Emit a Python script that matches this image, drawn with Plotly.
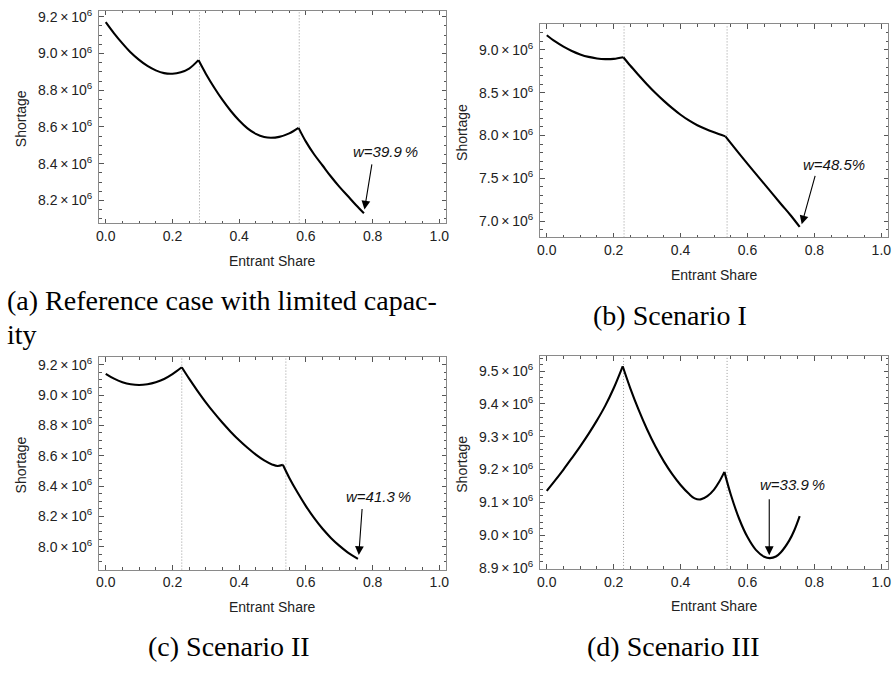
import plotly.graph_objects as go

# ---------------- data ----------------
a_x = [0.0, 0.025, 0.05, 0.075, 0.1, 0.125, 0.15, 0.175, 0.2, 0.225, 0.25, 0.278,
       0.3, 0.325, 0.35, 0.375, 0.4, 0.425, 0.45, 0.475, 0.495, 0.52, 0.55, 0.578,
       0.6, 0.625, 0.65, 0.675, 0.7, 0.725, 0.75, 0.774]
a_y = [9.171, 9.110, 9.055, 9.005, 8.965, 8.932, 8.908, 8.893, 8.890, 8.898, 8.918, 8.964,
       8.890, 8.815, 8.747, 8.687, 8.635, 8.592, 8.562, 8.545, 8.541, 8.546, 8.565, 8.595,
       8.520, 8.450, 8.390, 8.330, 8.275, 8.225, 8.175, 8.130]
a_kinks = [11, 23]

b_x = [0.0, 0.025, 0.05, 0.075, 0.1, 0.125, 0.15, 0.175, 0.2, 0.229,
       0.25, 0.275, 0.3, 0.325, 0.35, 0.375, 0.4, 0.425, 0.45, 0.475, 0.5, 0.534,
       0.58, 0.62, 0.66, 0.7, 0.73, 0.756]
b_y = [9.172, 9.099, 9.038, 8.988, 8.948, 8.919, 8.901, 8.893, 8.896, 8.915,
       8.815, 8.705, 8.597, 8.497, 8.405, 8.320, 8.243, 8.176, 8.120, 8.075, 8.037, 7.990,
       7.765, 7.575, 7.388, 7.200, 7.062, 6.931]
b_kinks = [9, 21]

c_x = [0.0, 0.025, 0.05, 0.075, 0.1, 0.125, 0.15, 0.175, 0.2, 0.228,
       0.25, 0.275, 0.3, 0.325, 0.35, 0.375, 0.4, 0.425, 0.45, 0.475, 0.5, 0.515, 0.531,
       0.55, 0.575, 0.6, 0.625, 0.65, 0.675, 0.7, 0.725, 0.756]
c_y = [9.140, 9.108, 9.085, 9.071, 9.066, 9.071, 9.084, 9.106, 9.138, 9.183,
       9.108, 9.028, 8.952, 8.882, 8.817, 8.757, 8.702, 8.652, 8.607, 8.569, 8.541, 8.532, 8.540,
       8.455, 8.357, 8.268, 8.188, 8.118, 8.058, 8.007, 7.963, 7.920]
c_kinks = [9, 22]

d_x = [0.0, 0.025, 0.05, 0.075, 0.1, 0.125, 0.15, 0.175, 0.2, 0.227,
       0.25, 0.275, 0.3, 0.325, 0.35, 0.375, 0.4, 0.425, 0.442, 0.46, 0.48, 0.5, 0.515, 0.531,
       0.55, 0.575, 0.6, 0.625, 0.65, 0.667, 0.685, 0.7, 0.725, 0.74, 0.756]
d_y = [9.135, 9.167, 9.200, 9.235, 9.271, 9.309, 9.350, 9.395, 9.448, 9.515,
       9.447, 9.381, 9.322, 9.270, 9.225, 9.186, 9.153, 9.126, 9.112, 9.109, 9.119, 9.139, 9.162, 9.193,
       9.124, 9.050, 8.994, 8.955, 8.934, 8.930, 8.935, 8.948, 8.984, 9.015, 9.058]
d_kinks = [9, 23]

a_breaks = [0.281, 0.580]
b_breaks = [0.231, 0.539]
c_breaks = [0.228, 0.540]
d_breaks = [0.2295, 0.539]

a_yticks = [8.2, 8.4, 8.6, 8.8, 9.0, 9.2]
b_yticks = [7.0, 7.5, 8.0, 8.5, 9.0]
c_yticks = [8.0, 8.2, 8.4, 8.6, 8.8, 9.0, 9.2]
d_yticks = [8.9, 9.0, 9.1, 9.2, 9.3, 9.4, 9.5]
x_ticks = [0.0, 0.2, 0.4, 0.6, 0.8, 1.0]

labels_w = ["w=39.9\u2009%", "w=48.5%", "w=41.3\u2009%", "w=33.9\u2009%"]
captions = ["(a) Reference case with limited capac-", "ity", "(b) Scenario I",
            "(c) Scenario II", "(d) Scenario III"]

SCALE = 1e6
W, H = 893, 673
SANS = "Liberation Sans, Arial, sans-serif"
SERIF = "Liberation Serif, Times New Roman, serif"

# panel frames in pixels: left, right, top, bottom
frames = [(96.7, 446.0, 7.0, 223.0), (540.7, 891.0, 20.7, 237.3),
          (96.7, 446.0, 359.0, 575.0), (540.7, 891.0, 358.3, 574.3)]
yranges = [(8.075, 9.232), (6.809, 9.299), (7.849, 9.250), (8.897, 9.545)]
yminor = [0.05, 0.1, 0.05, 0.02]

series = [(a_x, a_y, a_kinks, a_breaks, a_yticks), (b_x, b_y, b_kinks, b_breaks, b_yticks),
          (c_x, c_y, c_kinks, c_breaks, c_yticks), (d_x, d_y, d_kinks, d_breaks, d_yticks)]

# arrow tip, arrow tail, text centre (data units, y in 1e6)
arrows = [((0.7756, 8.150), (0.7985, 8.404), (0.838, 8.467)),
          ((0.762, 6.962), (0.8034, 7.545), (0.858, 7.660)),
          ((0.7586, 7.945), (0.7688, 8.258), (0.818, 8.334)),
          ((0.665, 8.939), (0.665, 9.114), (0.734, 9.155))]

fig = go.Figure()
layout = dict(width=W, height=H, margin=dict(l=0, r=0, t=0, b=0),
              paper_bgcolor="white", plot_bgcolor="white", showlegend=False)
annotations = []
shapes = []


def fmt(v):
    return f"{v:.1f}\u2009×\u200910<sup>6</sup>"


for i, ((xs, ys, kinks, brks, yt), (l, r, t, b), yr, ym) in enumerate(
        zip(series, frames, yranges, yminor)):
    n = "" if i == 0 else str(i + 1)
    xa, ya = "x" + n, "y" + n
    cuts = [0] + kinks + [len(xs) - 1]
    for s0, s1 in zip(cuts[:-1], cuts[1:]):
        fig.add_trace(go.Scatter(x=xs[s0:s1 + 1], y=[v * SCALE for v in ys[s0:s1 + 1]],
                                 mode="lines",
                                 line=dict(color="black", width=2.1, shape="spline",
                                           smoothing=1.0),
                                 xaxis=xa, yaxis=ya, hoverinfo="skip"))
    common = dict(showline=True, linecolor="#8a8a8a", linewidth=1, mirror="ticks",
                  ticks="inside", ticklen=4.5, tickwidth=1, tickcolor="#555",
                  showgrid=False, zeroline=False,
                  tickfont=dict(family=SANS, size=14, color="#222"))
    layout["xaxis" + n] = dict(common, domain=[l / W, r / W], range=[-0.02, 1.02],
                               anchor=ya, tickvals=x_ticks,
                               ticktext=[f"{v:.1f}" for v in x_ticks],
                               minor=dict(dtick=0.05, tick0=0, ticks="inside", ticklen=2.5,
                                          tickcolor="#555", showgrid=False))
    layout["yaxis" + n] = dict(common, domain=[1 - b / H, 1 - t / H],
                               range=[yr[0] * SCALE, yr[1] * SCALE], anchor=xa,
                               tickvals=[v * SCALE for v in yt],
                               ticktext=[fmt(v) for v in yt], ticklabelstandoff=3,
                               minor=dict(dtick=ym * SCALE, tick0=0, ticks="inside",
                                          ticklen=2.5, tickcolor="#555", showgrid=False))
    for bx in brks:
        shapes.append(dict(type="line", xref=xa, yref=ya + " domain", x0=bx, x1=bx,
                           y0=0, y1=1, layer="below",
                           line=dict(color="#9a9a9a", width=1, dash="1px,2px")))
    tip, tail, txt = arrows[i]
    annotations.append(dict(x=tip[0], y=tip[1] * SCALE, ax=tail[0], ay=tail[1] * SCALE,
                            xref=xa, yref=ya, axref=xa, ayref=ya, text="",
                            showarrow=True, arrowhead=2, arrowsize=1.6, arrowwidth=1.1,
                            arrowcolor="black", standoff=0, startstandoff=0))
    annotations.append(dict(x=txt[0], y=txt[1] * SCALE, xref=xa, yref=ya,
                            xanchor="center", yanchor="middle",
                            text="<i>" + labels_w[i] + "</i>", showarrow=False,
                            font=dict(family=SANS, size=15, color="#111")))
    # axis titles
    annotations.append(dict(x=(l + r) / 2 / W, y=1 - (b + 38) / H, xref="paper", yref="paper",
                            xanchor="center", yanchor="middle",
                            text="Entrant Share", showarrow=False,
                            font=dict(family=SANS, size=14, color="#222")))
    annotations.append(dict(x=(l - 78.5) / W, y=1 - ((t + b) / 2 + 2) / H, xref="paper",
                            yref="paper", xanchor="center", yanchor="middle",
                            text="Shortage", textangle=-90, showarrow=False,
                            font=dict(family=SANS, size=14, color="#222")))

# captions
cap_font = dict(family=SERIF, size=28, color="black")
cap_pos = [(2, 301, "left"), (2, 336, "left"), (672, 317, "center"),
           (228, 653, "center"), (675, 653, "center")]
for txt, (cx, cy, anc) in zip(captions, cap_pos):
    annotations.append(dict(x=cx / W, y=1 - cy / H, xref="paper", yref="paper",
                            xanchor=anc, yanchor="middle", text=txt, showarrow=False,
                            font=cap_font))

layout["annotations"] = annotations
layout["shapes"] = shapes
fig.update_layout(**layout)
fig.write_html("out.html")
